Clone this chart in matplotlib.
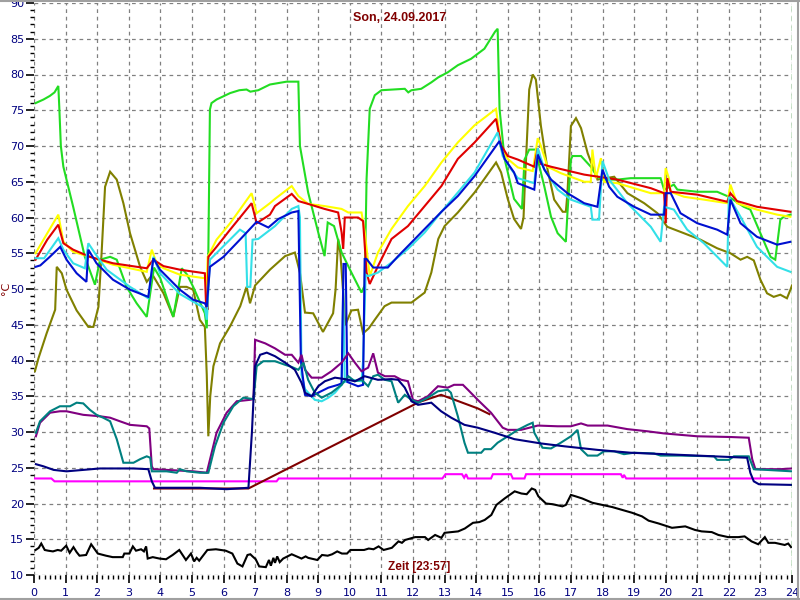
# -*- coding: utf-8 -*-
"""
Tagesverlauf Temperaturen, Son 24.09.2017
"""

import numpy as np
import matplotlib
matplotlib.use("Agg")
import matplotlib.pyplot as plt
from matplotlib.ticker import MultipleLocator

# --- data (hours, deg C) ---
green_t = [0.05, 0.3, 0.5, 0.65, 0.77, 0.8, 0.85, 0.93, 1.24, 1.61, 1.93, 2.09, 2.41, 2.62, 2.93, 3.25, 3.57,
           3.7, 3.8, 4.0, 4.41, 4.68, 4.85, 5.04, 5.41, 5.47, 5.52, 5.57, 5.62, 5.78, 6.21, 6.5, 6.73, 6.85,
           7.1, 7.47, 8.0, 8.37, 8.42, 8.68, 9.0, 9.2, 9.3, 9.5, 9.74, 10.05, 10.37, 10.47, 10.53, 10.63,
           10.79, 11.0, 11.74, 11.85, 11.95, 12.26, 12.58, 12.8, 13.1, 13.42, 13.84, 14.26, 14.6, 14.68,
           14.74, 14.9, 15.2, 15.45, 15.53, 15.68, 15.89, 15.95, 16.16, 16.37, 16.58, 16.84, 16.89, 17.0,
           17.05, 17.32, 17.63, 17.84, 18.0, 18.47, 18.89, 19.84, 19.95, 20.26, 20.37, 21.0, 21.63, 22.0,
           22.47, 22.68, 23.0, 23.32, 23.47, 23.63, 23.74, 23.95]
green_v = [76.0, 76.5, 77.0, 77.5, 78.4, 75.5, 70.0, 67.1, 61.5, 54.5, 50.6, 54.1, 54.5, 54.1, 50.3, 48.0, 46.1,
           50.0, 53.0, 51.5, 46.1, 52.9, 52.0, 50.3, 46.6, 44.5, 55.0, 75.1, 76.0, 76.5, 77.4, 77.8, 77.9, 77.6,
           77.8, 78.6, 79.0, 79.0, 70.0, 63.5, 57.9, 54.6, 59.3, 58.8, 55.1, 52.3, 49.5, 50.5, 65.4, 75.2,
           77.1, 77.8, 78.0, 77.5, 77.8, 78.0, 78.9, 79.6, 80.3, 81.3, 82.2, 83.6, 86.0, 86.4,
           75.2, 68.2, 62.6, 61.2, 68.1, 69.5, 69.5, 68.1, 64.3, 60.1, 57.8, 56.6, 60.6, 68.1,
           68.6, 68.6, 67.1, 65.7, 65.3, 65.3, 65.5, 65.5, 63.9, 64.6, 63.9, 63.6, 63.6, 62.9,
           61.5, 61.1, 57.8, 54.5, 54.1, 59.7, 60.1, 60.4]

yellow_t = [0.05, 0.42, 0.77, 0.93, 1.24, 1.77, 2.5, 3.57, 3.73, 3.89, 4.1, 4.62, 5.41, 5.47, 5.5, 5.78, 6.21,
            6.89, 7.05, 7.47, 7.63, 8.16, 8.37, 8.68, 9.2, 9.74, 9.95, 10.37, 10.47, 10.63, 10.89, 11.32,
            11.84, 12.37, 12.9, 13.42, 13.95, 14.63, 14.79, 15.0, 15.32, 15.79, 15.95, 16.05, 16.26, 16.68,
            17.42, 17.63, 17.68, 17.79, 17.95, 18.05, 18.47, 19.0, 19.53, 19.95, 20.0, 20.1, 20.16, 20.58,
            21.21, 21.95, 22.05, 22.26, 22.89, 23.53, 23.95]
yellow_v = [55.0, 57.8, 60.4, 56.6, 55.2, 54.5, 53.4, 52.4, 55.5, 53.5, 52.9, 52.0, 51.5, 50.5, 54.5, 56.9, 59.2,
            63.4, 60.6, 62.0, 62.6, 64.4, 63.0, 61.9, 61.6, 61.2, 60.7, 60.7, 58.0, 51.8, 55.1, 58.4,
            61.6, 64.4, 67.7, 70.5, 72.9, 75.2, 69.6, 68.2, 67.0, 66.5, 71.1, 70.0, 67.1, 66.2,
            65.0, 65.0, 69.5, 65.5, 68.3, 65.0, 64.8, 64.1, 63.4, 63.4, 66.9, 65.5, 63.6, 62.9,
            62.5, 62.0, 64.6, 62.0, 61.1, 60.4, 60.1]

red_t = [0.05, 0.42, 0.77, 0.93, 1.24, 1.77, 2.5, 3.57, 3.78, 4.1, 4.62, 5.41, 5.45, 5.5, 5.52, 5.78, 6.21,
         6.89, 7.05, 7.47, 7.63, 8.16, 8.37, 8.68, 9.2, 9.63, 9.74, 9.79, 9.84, 10.26, 10.42, 10.53, 10.63,
         10.89, 11.32, 11.84, 12.37, 12.9, 13.42, 13.95, 14.63, 14.79, 15.0, 15.32, 15.84, 15.95, 16.05,
         16.37, 17.42, 18.47, 19.53, 19.95, 20.0, 20.05, 20.16, 21.0, 21.95, 22.05, 22.26, 22.89, 23.95]
red_v = [54.1, 56.9, 59.0, 56.4, 55.5, 54.5, 53.6, 52.9, 54.1, 53.2, 52.7, 52.2, 47.5, 47.1, 54.5, 55.9, 58.3,
         62.0, 59.2, 60.4, 61.6, 63.3, 62.3, 61.9, 61.2, 60.7, 57.9, 55.6, 60.0, 60.0, 59.5, 52.3, 50.7,
         53.2, 57.0, 58.8, 61.6, 64.4, 68.2, 70.5, 73.8, 70.1, 68.6, 68.1, 67.1, 69.7, 67.5,
         67.1, 66.0, 65.3, 64.1, 63.4, 59.2, 65.5, 63.6, 63.2, 62.2, 63.4, 62.3, 61.5, 60.8]

cyan_t = [0.05, 0.32, 0.77, 0.93, 1.24, 1.61, 1.72, 1.93, 2.3, 3.04, 3.62, 3.78, 3.99, 4.62, 5.41, 5.47, 5.57,
          6.0, 6.52, 6.7, 6.75, 6.85, 6.92, 7.1, 7.63, 8.16, 8.37, 8.42, 8.47, 8.58, 8.89, 9.11, 9.32, 9.53,
          9.74, 9.79, 9.84, 10.05, 10.37, 10.42, 10.5, 10.58, 10.89, 11.32, 11.84, 12.37, 12.9, 13.42, 13.95,
          14.68, 14.84, 15.1, 15.32, 15.84, 15.95, 16.16, 16.58, 17.0, 17.63, 17.68, 17.89, 18.0, 18.21,
          18.79, 19.53, 19.84, 19.95, 20.26, 20.68, 21.21, 21.95, 22.0, 22.37, 22.89, 23.53, 23.95]
cyan_v = [54.3, 54.3, 57.1, 55.5, 53.6, 52.9, 56.4, 55.0, 52.7, 50.3, 48.7, 54.5, 52.2, 49.3, 47.3, 45.7, 54.1,
          56.0, 58.3, 57.8, 50.3, 50.3, 56.9, 57.0, 58.8, 61.2, 61.6, 60.0, 38.0, 36.0, 34.5, 34.3, 34.8, 35.5,
          36.6, 50.0, 37.0, 37.3, 37.1, 40.0, 52.0, 51.8, 52.3, 53.7, 55.6, 57.9, 60.8, 63.5, 66.3,
          71.9, 68.6, 66.8, 65.5, 64.8, 69.7, 66.7, 63.9, 62.5, 61.5, 59.7, 59.7, 67.9, 65.3,
          62.0, 58.7, 56.6, 61.5, 61.1, 58.3, 56.4, 53.1, 62.9, 60.1, 55.9, 53.1, 52.4]

blue_t = [0.05, 0.2, 0.5, 0.83, 1.03, 1.35, 1.66, 1.72, 1.98, 2.5, 3.04, 3.62, 3.78, 3.99, 4.62, 5.04, 5.41,
          5.47, 5.57, 6.0, 6.52, 7.05, 7.42, 7.74, 8.16, 8.37, 8.45, 8.58, 8.79, 9.0, 9.32, 9.63, 9.74, 9.8,
          9.87, 9.92, 10.26, 10.42, 10.47, 10.53, 10.74, 11.2, 11.53, 11.84, 12.37, 12.9, 13.42, 13.95,
          14.74, 14.9, 15.2, 15.32, 15.84, 15.95, 16.16, 16.37, 16.89, 17.42, 17.84, 18.0, 18.21, 18.47,
          19.0, 19.53, 19.95, 20.0, 20.16, 20.47, 21.0, 21.63, 21.95, 22.05, 22.37, 22.89, 23.53, 23.95]
blue_v = [53.1, 53.3, 54.5, 55.9, 54.1, 52.2, 51.0, 55.5, 53.6, 51.3, 49.9, 48.9, 54.3, 52.7, 49.9, 48.5, 48.0,
          47.5, 53.1, 54.5, 56.9, 59.4, 58.6, 59.8, 60.7, 60.9, 40.0, 35.2, 35.0, 35.5, 36.2, 36.6, 36.8, 53.5,
          53.5, 37.0, 36.4, 36.6, 54.2, 54.2, 53.0, 53.0, 54.6, 56.0, 58.4, 60.8, 63.0, 65.8,
          70.7, 68.2, 66.3, 64.8, 63.9, 68.8, 66.7, 65.3, 63.4, 62.0, 61.5, 66.7, 64.3, 62.9,
          61.5, 60.4, 60.4, 63.4, 63.4, 60.6, 59.2, 58.3, 57.6, 62.5, 59.2, 57.3, 56.2, 56.6]

olive_t = [0.03, 0.14, 0.4, 0.67, 0.72, 0.88, 1.03, 1.35, 1.72, 1.88, 2.04, 2.14, 2.25, 2.41, 2.62, 2.83, 3.04,
           3.36, 3.57, 3.75, 4.1, 4.41, 4.62, 4.83, 5.04, 5.25, 5.41, 5.47, 5.52, 5.58, 5.68, 5.89, 6.21,
           6.53, 6.73, 6.84, 7.0, 7.47, 7.95, 8.26, 8.42, 8.58, 8.84, 9.15, 9.47, 9.55, 9.63, 9.7, 9.86,
           10.05, 10.26, 10.42, 10.6, 10.79, 11.1, 11.32, 11.63, 11.95, 12.1, 12.37, 12.58, 12.8, 13.0,
           13.42, 13.95, 14.26, 14.63, 14.79, 15.0, 15.2, 15.42, 15.5, 15.53, 15.68, 15.79, 15.89, 16.05,
           16.26, 16.47, 16.74, 16.84, 16.89, 17.0, 17.16, 17.32, 17.53, 17.84, 18.37, 18.79, 19.32, 19.74,
           20.05, 20.58, 21.1, 21.63, 22.05, 22.37, 22.58, 22.79, 23.0, 23.21, 23.42, 23.63, 23.84, 23.95, 24.0]
olive_v = [38.5, 40.3, 43.8, 47.1, 53.1, 52.2, 49.9, 47.0, 44.7, 44.7, 47.5, 55.0, 64.3, 66.4, 65.3, 62.0, 57.8,
           53.1, 51.0, 52.0, 49.4, 46.1, 50.3, 50.3, 49.9, 45.7, 44.7, 38.0, 29.4, 35.0, 39.2, 42.4, 44.8,
           47.6, 50.3, 48.0, 50.5, 52.7, 54.6, 55.1, 52.3, 46.7, 46.6, 44.0, 46.6, 50.0, 57.0, 55.0, 45.0,
           47.0, 47.1, 43.8, 44.5, 45.7, 47.6, 48.1, 48.1, 48.1, 48.6, 49.5, 52.3, 57.0, 58.8,
           60.7, 63.5, 65.4, 67.7, 66.3, 62.6, 59.8, 58.4, 60.0, 63.4, 77.9, 80.0, 79.3, 72.8,
           66.7, 62.5, 60.8, 60.8, 63.4, 72.8, 73.9, 72.5, 69.0, 65.3, 65.7, 63.4, 62.0, 60.6,
           58.7, 57.8, 56.9, 55.7, 55.0, 54.1, 54.5, 54.0, 51.3, 49.4, 48.9, 49.2, 48.7, 49.9, 50.5]

purple_t = [0.06, 0.19, 0.51, 0.82, 1.03, 1.56, 2.09, 2.41, 2.72, 3.04, 3.57, 3.65, 3.73, 3.78, 4.2, 5.04, 5.47,
            5.78, 6.1, 6.42, 6.84, 6.95, 7.0, 7.32, 7.63, 7.95, 8.16, 8.37, 8.47, 8.58, 8.79, 9.11, 9.42,
            9.74, 9.95, 10.16, 10.37, 10.58, 10.74, 10.89, 11.11, 11.42, 11.63, 11.84, 12.0, 12.16, 12.47,
            12.79, 13.1, 13.3, 13.58, 13.74, 14.05, 14.47, 14.84, 15.0, 15.42, 15.95, 16.58, 17.0, 17.32,
            17.53, 18.16, 18.79, 19.42, 19.95, 21.0, 22.05, 22.63, 22.74, 22.84, 23.63, 24.0]
purple_v = [29.4, 31.3, 32.7, 32.9, 32.9, 32.4, 32.2, 32.0, 31.5, 31.0, 30.8, 30.5, 25.2, 24.8, 24.7, 24.5, 24.3,
            29.9, 32.7, 34.3, 34.5, 34.6, 42.9, 42.4, 41.7, 40.8, 40.8, 39.7, 40.8, 38.7, 37.6, 37.6, 38.5,
            39.7, 41.0, 39.7, 38.5, 39.0, 41.0, 38.3, 37.8, 37.8, 37.3, 37.1, 34.5, 34.3, 35.0,
            36.4, 36.2, 36.6, 36.6, 35.9, 34.5, 32.7, 30.6, 30.3, 30.3, 30.9, 30.8, 30.8, 31.2,
            30.9, 30.9, 30.4, 30.1, 29.8, 29.4, 29.3, 29.2, 26.2, 24.8, 24.8, 24.9]

teal_t = [0.06, 0.19, 0.51, 0.82, 1.14, 1.35, 1.56, 1.77, 1.98, 2.19, 2.41, 2.62, 2.83, 3.15, 3.36, 3.57, 3.68,
          3.73, 4.2, 4.52, 4.62, 4.83, 5.25, 5.52, 5.73, 6.0, 6.31, 6.63, 6.95, 7.05, 7.26, 7.63, 7.95, 8.16,
          8.37, 8.53, 8.68, 8.89, 9.11, 9.42, 9.74, 9.95, 10.16, 10.37, 10.58, 10.74, 10.89, 11.11, 11.32,
          11.53, 11.74, 11.95, 12.16, 12.47, 12.79, 13.1, 13.2, 13.42, 13.63, 13.74, 14.16, 14.26, 14.47,
          14.68, 15.0, 15.32, 15.63, 15.79, 15.84, 16.1, 16.37, 16.68, 17.0, 17.21, 17.32, 17.53, 17.84,
          18.05, 18.37, 18.68, 19.0, 19.63, 19.84, 20.47, 21.53, 21.63, 22.0, 22.16, 22.63, 22.79, 24.0]
teal_v = [29.9, 31.5, 32.9, 33.6, 33.6, 34.1, 34.0, 33.1, 32.4, 32.0, 31.5, 29.0, 25.7, 25.7, 26.2, 26.6, 26.4,
          24.5, 24.5, 24.3, 24.8, 24.5, 24.3, 24.3, 28.0, 31.3, 33.6, 34.8, 34.6, 39.2, 39.9, 39.9, 39.4, 39.1,
          38.7, 39.7, 37.3, 35.5, 34.8, 35.5, 36.6, 37.8, 37.1, 37.3, 36.4, 37.8, 38.0, 37.3, 37.1,
          34.1, 35.2, 34.5, 34.1, 34.8, 35.7, 35.9, 35.5, 32.2, 28.5, 27.1, 27.1, 27.6, 27.6,
          28.5, 29.4, 30.3, 31.0, 31.3, 29.9, 27.8, 27.7, 28.5, 29.4, 30.3, 27.6, 26.7, 26.7,
          27.3, 27.3, 26.9, 27.1, 27.0, 26.7, 26.7, 26.6, 26.1, 26.1, 26.6, 26.6, 24.8, 24.5]

navy_t = [0.06, 0.3, 0.62, 1.03, 1.56, 2.09, 3.15, 3.62, 3.73, 3.83, 5.25, 6.1, 6.79, 6.9, 7.0, 7.16, 7.37,
          7.63, 7.95, 8.26, 8.47, 8.58, 8.79, 9.0, 9.21, 9.53, 9.84, 10.16, 10.47, 10.89, 11.32, 11.53, 11.74,
          11.95, 12.16, 12.58, 12.89, 13.21, 13.63, 14.05, 14.58, 15.21, 16.05, 16.79, 17.84, 18.89, 19.95,
          21.0, 22.05, 22.58, 22.68, 22.79, 22.95, 24.0]
navy_v = [25.5, 25.2, 24.7, 24.5, 24.7, 24.9, 24.9, 24.8, 23.1, 22.2, 22.2, 22.0, 22.2, 30.0, 39.2, 40.8, 41.1,
          40.6, 39.7, 38.7, 36.9, 35.5, 35.0, 36.4, 37.1, 37.6, 37.4, 37.1, 37.8, 37.3, 37.4, 37.3, 36.2,
          34.3, 33.8, 34.1, 32.9, 32.0, 31.0, 30.6, 29.9, 29.0, 28.4, 28.0, 27.5, 27.1, 26.9,
          26.7, 26.5, 26.4, 24.3, 23.1, 22.7, 22.6]

maroon_t = [3.8, 6.79, 12.2, 12.89, 13.32, 14.05, 14.42]
maroon_v = [22.1, 22.1, 34.2, 35.2, 34.5, 33.3, 32.5]

magenta_t = [0.0, 0.55, 0.65, 7.68, 7.75, 12.93, 13.03, 13.55, 13.62, 13.68, 13.74, 14.47, 14.53, 15.1, 15.16,
             15.53, 15.58, 18.58, 18.64, 18.68, 18.75, 24.0]
magenta_v = [23.5, 23.5, 23.1, 23.1, 23.5, 23.5, 24.1, 24.1, 23.6, 24.1, 23.5, 23.5, 24.1, 24.1, 23.5,
             23.5, 24.1, 24.1, 23.6, 24.0, 23.5, 23.5]

black_t = [0.05, 0.15, 0.23, 0.34, 0.45, 0.6, 0.75, 0.86, 1.02, 1.13, 1.25, 1.35, 1.44, 1.65, 1.81, 2.02, 2.28,
           2.49, 2.81, 2.86, 3.02, 3.13, 3.23, 3.39, 3.48, 3.55, 3.6, 3.76, 3.97, 4.18, 4.39, 4.6, 4.81, 4.97,
           5.07, 5.15, 5.23, 5.49, 5.76, 6.07, 6.28, 6.44, 6.6, 6.76, 6.85, 6.92, 7.02, 7.13, 7.34, 7.44, 7.5,
           7.58, 7.63, 7.7, 7.78, 7.89, 8.16, 8.47, 8.6, 8.68, 8.97, 9.12, 9.3, 9.44, 9.6, 9.75, 9.91, 10.02,
           10.28, 10.45, 10.6, 10.75, 10.91, 11.07, 11.33, 11.54, 11.65, 11.75, 12.07, 12.38, 12.48, 12.7,
           12.9, 13.0, 13.43, 13.64, 13.9, 14.1, 14.27, 14.48, 14.64, 14.9, 15.22, 15.43, 15.6, 15.76, 15.87,
           15.97, 16.21, 16.42, 16.73, 16.84, 17.0, 17.15, 17.36, 17.68, 18.0, 18.31, 18.62, 18.94, 19.25,
           19.46, 19.78, 19.99, 20.2, 20.62, 20.93, 21.14, 21.46, 21.67, 21.98, 22.3, 22.5, 22.72, 22.93,
           23.14, 23.25, 23.46, 23.77, 23.88, 23.97]
black_v = [13.5, 13.8, 14.4, 13.5, 13.4, 13.3, 13.5, 13.4, 14.1, 13.1, 13.9, 13.2, 12.7, 12.8, 14.3, 13.0, 12.7,
           12.5, 12.5, 13.0, 13.0, 14.0, 13.4, 13.6, 13.3, 14.0, 12.3, 12.5, 12.3, 12.2, 12.8, 13.5, 12.1, 13.0,
           11.9, 12.4, 12.0, 13.5, 13.6, 13.4, 13.0, 11.6, 11.2, 12.8, 12.9, 12.6, 12.2, 11.2, 11.1, 12.1, 11.3,
           12.4, 11.7, 12.6, 11.8, 12.3, 12.9, 12.3, 12.6, 12.4, 12.1, 12.8, 12.7, 12.9, 13.3, 13.0, 13.0, 13.5,
           13.5, 13.5, 13.7, 13.6, 14.0, 13.5, 13.8, 14.7, 14.5, 14.9, 15.3, 15.3, 14.9, 15.6,
           15.2, 15.9, 16.1, 16.5, 17.3, 17.4, 17.7, 18.4, 19.8, 20.7, 21.7, 21.4, 21.3, 22.1, 21.9,
           21.0, 20.0, 19.9, 19.6, 19.8, 21.2, 21.0, 20.7, 20.1, 19.8, 19.5, 19.1, 18.7, 18.2,
           17.6, 17.2, 16.9, 16.6, 16.8, 16.3, 16.1, 16.0, 15.6, 15.3, 15.3, 15.4, 14.7, 14.3,
           15.3, 14.5, 14.5, 14.2, 14.4, 13.9]

title_text = "Son, 24.09.2017"
xlabel_text = "Zeit [23:57]"
ylabel_text = "°C"

# --- figure ---
fig = plt.figure(figsize=(8, 6), dpi=100)
fig.patch.set_facecolor("white")
ax = fig.add_axes([34 / 800, 25 / 600, 758 / 800, 572 / 600])

series = [
    (olive_t, olive_v, "#808000"),
    (green_t, green_v, "#22DD22"),
    (yellow_t, yellow_v, "#FFFF00"),
    (red_t, red_v, "#E00000"),
    (cyan_t, cyan_v, "#33E0E8"),
    (blue_t, blue_v, "#0010D0"),
    (black_t, black_v, "#000000"),
    (magenta_t, magenta_v, "#FF00FF"),
    (maroon_t, maroon_v, "#800000"),
    (purple_t, purple_v, "#800080"),
    (teal_t, teal_v, "#008080"),
    (navy_t, navy_v, "#000080"),
]
for t, v, c in series:
    ax.plot(t, v, color=c, lw=1.5, solid_joinstyle="miter", zorder=3)

# current time marker
ax.axvline(24, color="#008000", lw=1.0, ls=(0, (4, 3)), zorder=4)

ax.set_xlim(0, 24)
ax.set_ylim(10, 90)
ax.xaxis.set_major_locator(MultipleLocator(1))
ax.xaxis.set_minor_locator(MultipleLocator(1 / 6))
ax.yaxis.set_major_locator(MultipleLocator(5))
ax.yaxis.set_minor_locator(MultipleLocator(1))
ax.grid(True, which="major", color="#808080", lw=0.9, ls=(0, (3, 3)), zorder=1)

for s in ax.spines.values():
    s.set_visible(False)

ax.tick_params(axis="both", which="major", direction="out", length=6, width=1.2,
               colors="black", labelcolor="#000080", labelsize=8)
ax.tick_params(axis="both", which="minor", direction="out", length=3, width=1.0, colors="black")
ax.tick_params(axis="x", which="major", pad=3)
ax.tick_params(axis="y", which="major", pad=1)

ax.text(0.483, 0.985, title_text, transform=ax.transAxes, ha="center", va="top",
        fontsize=9, fontweight="bold", color="#800000", family="Liberation Sans", zorder=5)
ax.text(0.508, 0.003, xlabel_text, transform=ax.transAxes, ha="center", va="bottom",
        fontsize=8.5, fontweight="bold", color="#800000", family="Liberation Sans", zorder=5)
fig.text(6 / 800, 1 - 288 / 600, ylabel_text, rotation=90, ha="center", va="center",
         fontsize=8, color="#800000")

# window frame
fig.add_artist(plt.Line2D([0, 1], [0.999, 0.999], color="#a0a0a0", lw=1.5, transform=fig.transFigure))
fig.add_artist(plt.Line2D([0, 1], [0.001, 0.001], color="#a0a0a0", lw=1.5, transform=fig.transFigure))
fig.add_artist(plt.Line2D([0.998, 0.998], [0, 1], color="#a0a0a0", lw=1.5, transform=fig.transFigure))

fig.savefig("out.png", dpi=100)
